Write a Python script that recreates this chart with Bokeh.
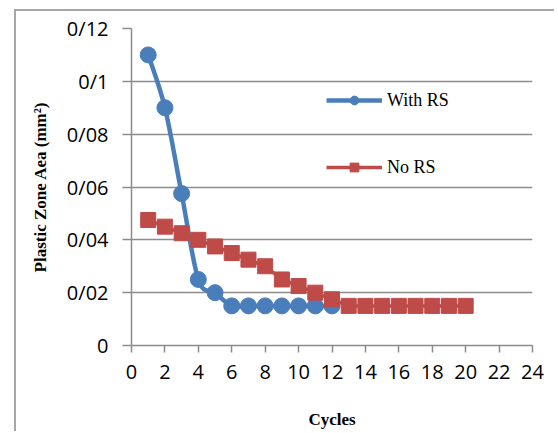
from bokeh.plotting import figure
from bokeh.layouts import column, row
from bokeh.models import FixedTicker, Legend, LegendItem, Div
from bokeh.embed import file_html
from bokeh.resources import INLINE

# Data
cycles_with = [1, 2, 3, 4, 5, 6, 7, 8, 9, 10, 11, 12]
area_with = [0.11, 0.09, 0.0575, 0.025, 0.02, 0.015, 0.015, 0.015, 0.015, 0.015, 0.015, 0.015]
cycles_no = [1, 2, 3, 4, 5, 6, 7, 8, 9, 10, 11, 12, 13, 14, 15, 16, 17, 18, 19, 20]
area_no = [0.0475, 0.045, 0.0425, 0.04, 0.0375, 0.035, 0.0325, 0.03, 0.025, 0.0225, 0.02, 0.0175,
           0.015, 0.015, 0.015, 0.015, 0.015, 0.015, 0.015, 0.015]
x_ticks = [0, 2, 4, 6, 8, 10, 12, 14, 16, 18, 20, 22, 24]
y_ticks = [0, 0.02, 0.04, 0.06, 0.08, 0.1, 0.12]
y_tick_labels = ["0", "0/02", "0/04", "0/06", "0/08", "0/1", "0/12"]

BLUE = "#4A7EBB"
RED = "#BE4B48"
GRID = "#8c8c8c"
BORDER = "#a6a6a6"

p = figure(width=538, height=420, x_range=(0, 24), y_range=(0, 0.12),
           output_backend="svg", toolbar_location=None,
           min_border_left=115, min_border_right=22, min_border_top=17, min_border_bottom=83)
p.outline_line_color = None
p.background_fill_color = "white"
p.margin = 0

p.xgrid.visible = False
p.ygrid.grid_line_color = GRID
p.ygrid.grid_line_width = 1.5
p.ygrid.ticker = FixedTicker(ticks=y_ticks)

p.xaxis.ticker = FixedTicker(ticks=x_ticks)
p.yaxis.ticker = FixedTicker(ticks=y_ticks)
p.yaxis.major_label_overrides = {t: l for t, l in zip(y_ticks, y_tick_labels)}

for ax in (p.xaxis, p.yaxis):
    ax.axis_line_color = GRID
    ax.axis_line_width = 1.5
    ax.major_tick_line_color = GRID
    ax.major_tick_line_width = 1.5
    ax.minor_tick_line_color = None
    ax.major_tick_in = 0
    ax.major_label_text_font = "Open Sans"
    ax.major_label_text_font_size = "20px"
    ax.major_label_text_color = "black"
    ax.axis_label_text_font = "Liberation Serif"
    ax.axis_label_text_font_style = "bold"
    ax.axis_label_text_font_size = "17px"
    ax.axis_label_text_color = "black"

p.yaxis.major_tick_out = 9
p.yaxis.major_label_standoff = 14
p.yaxis.axis_label = "Plastic Zone Aea (mm\u00b2)"
p.yaxis.axis_label_standoff = 14
p.xaxis.major_tick_out = 7
p.xaxis.major_label_standoff = 12
p.xaxis.axis_label = "Cycles"
p.xaxis.axis_label_standoff = 28

# Smooth (Excel-like) curve for "With RS" built from the data points
x0s, y0s, x1s, y1s, cx0, cy0, cx1, cy1 = [], [], [], [], [], [], [], []
n = len(cycles_with)
for i in range(n - 1):
    xa, ya = cycles_with[i], area_with[i]
    xb, yb = cycles_with[i + 1], area_with[i + 1]
    xp, yp = (cycles_with[i - 1], area_with[i - 1]) if i > 0 else (xa, ya)
    xn, yn = (cycles_with[i + 2], area_with[i + 2]) if i + 2 < n else (xb, yb)
    x0s.append(xa); y0s.append(ya); x1s.append(xb); y1s.append(yb)
    cx0.append(xa + (xb - xp) / 6); cy0.append(ya + (yb - yp) / 6)
    cx1.append(xb - (xn - xa) / 6); cy1.append(yb - (yn - ya) / 6)

r_bez = p.bezier(x0=x0s, y0=y0s, x1=x1s, y1=y1s, cx0=cx0, cy0=cy0, cx1=cx1, cy1=cy1,
                 line_color=BLUE, line_width=4.5)
r_bpts = p.scatter(cycles_with, area_with, marker="circle", size=16,
                   fill_color=BLUE, line_color=BLUE)

r_rline = p.line(cycles_no, area_no, line_color=RED, line_width=3.5)
r_rpts = p.scatter(cycles_no, area_no, marker="square", size=15,
                   fill_color=RED, line_color=RED)

legend = Legend(items=[LegendItem(label="With RS", renderers=[r_bez, r_bpts]),
                       LegendItem(label="No RS", renderers=[r_rline, r_rpts])],
                location=(195, 167))
legend.background_fill_alpha = 0
legend.border_line_color = None
legend.padding = 0
legend.margin = 0
legend.spacing = 45
legend.glyph_width = 56
legend.glyph_height = 22
legend.label_height = 22
legend.label_standoff = 5
legend.label_text_font = "Liberation Serif"
legend.label_text_font_size = "18px"
legend.label_text_color = "black"
p.add_layout(legend)

top_bar = Div(text="", width=540, height=2, margin=0, styles={"background-color": BORDER})
left_bar = Div(text="", width=2, height=420, margin=0, styles={"background-color": BORDER})
layout = column(top_bar, row(left_bar, p, spacing=0), spacing=0,
                styles={"margin-left": "14px", "margin-top": "9px"})

open("out.html", "w").write(file_html(layout, INLINE))
